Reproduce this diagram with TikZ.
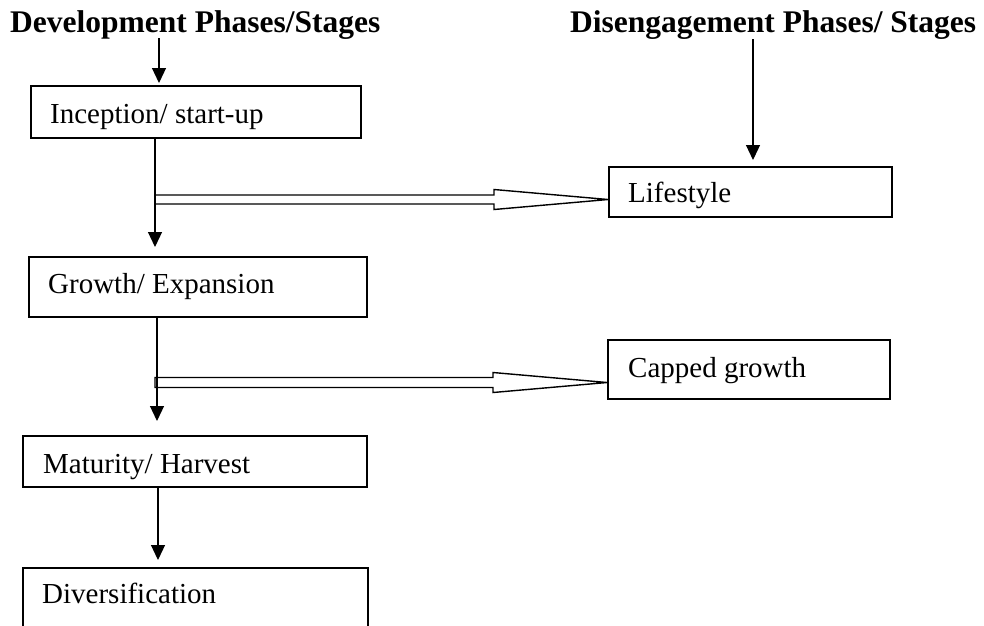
\documentclass[tikz,border=0pt]{standalone}
\usepackage{fontspec}
\setmainfont{Liberation Serif}
\usetikzlibrary{arrows.meta,calc}
\begin{document}
\begin{tikzpicture}[x=1pt,y=-1pt,
  box/.style={draw, line width=1.5pt, rectangle, inner sep=0pt, anchor=north west},
  lbl/.style={anchor=base west, inner sep=0pt, font=\fontsize{29}{34}\selectfont},
  ttl/.style={anchor=base west, inner sep=0pt, font=\fontsize{31.5}{36}\selectfont\bfseries},
  arr/.style={line width=1.2pt, -{Triangle[width=14pt,length=15pt]}},
  hollow/.style={line width=1.4pt, line join=miter}]
\useasboundingbox (0,0) rectangle (984,625);
\clip (0,0) rectangle (984,625);

% titles
\node[ttl] (dev) at (10,32) {Development Phases/Stages};
\node[ttl] (dis) at (570,32) {Disengagement Phases/ Stages};

% boxes
\node[box, minimum width=330pt, minimum height=52pt] (inc) at (30,85) {};
\node[box, minimum width=338pt, minimum height=60pt] (gro) at (28,256) {};
\node[box, minimum width=344pt, minimum height=51pt] (mat) at (22,435) {};
\node[box, minimum width=345pt, minimum height=80pt] (div) at (22,567) {};
\node[box, minimum width=283pt, minimum height=50pt] (life) at (608,166) {};
\node[box, minimum width=282pt, minimum height=59pt] (cap) at (607,339) {};

% labels
\node[lbl] (incl) at (50,123) {Inception/ start-up};
\node[lbl] (grol) at (48,293) {Growth/ Expansion};
\node[lbl] (matl) at (43,473) {Maturity/ Harvest};
\node[lbl] (divl) at (42,603) {Diversification};
\node[lbl] (lifel) at (628,202) {Lifestyle};
\node[lbl] (capl) at (628,377) {Capped growth};

% connector anchors
\coordinate (s1) at (159,38);
\coordinate (s2) at (753,39);
\coordinate (v1) at (155,0);
\coordinate (v2) at (157,0);
\coordinate (v3) at (158,0);

% vertical arrows
\draw[arr, shorten >=2pt] (s1) -- (inc.north -| s1);
\draw[arr, shorten >=6pt] (s2) -- (life.north -| s2);
\draw[arr, shorten >=9pt] (inc.south -| v1) -- (gro.north -| v1);
\draw[arr, shorten >=14pt] (gro.south -| v2) -- (mat.north -| v2);
\draw[arr, shorten >=7pt] (mat.south -| v3) -- (div.north -| v3);

% hollow arrows
\coordinate (t1) at ($(life.south west)+(0,-18)$);
\coordinate (t2) at ($(cap.south west)+(0,-17)$);
\draw[hollow] ($(t1 -| v1)+(0,-4.5)$) -- ($(t1)+(-114,-4.5)$) -- ($(t1)+(-114,-10)$)
  -- (t1) -- ($(t1)+(-114,10)$) -- ($(t1)+(-114,4.5)$) -- ($(t1 -| v1)+(0,4.5)$);
\draw[hollow] ($(t2 -| v2)+(-2,-5)$) -- ($(t2)+(-114,-5)$) -- ($(t2)+(-114,-10)$)
  -- (t2) -- ($(t2)+(-114,10)$) -- ($(t2)+(-114,5)$) -- ($(t2 -| v2)+(-2,5)$) -- cycle;
\end{tikzpicture}
\end{document}
